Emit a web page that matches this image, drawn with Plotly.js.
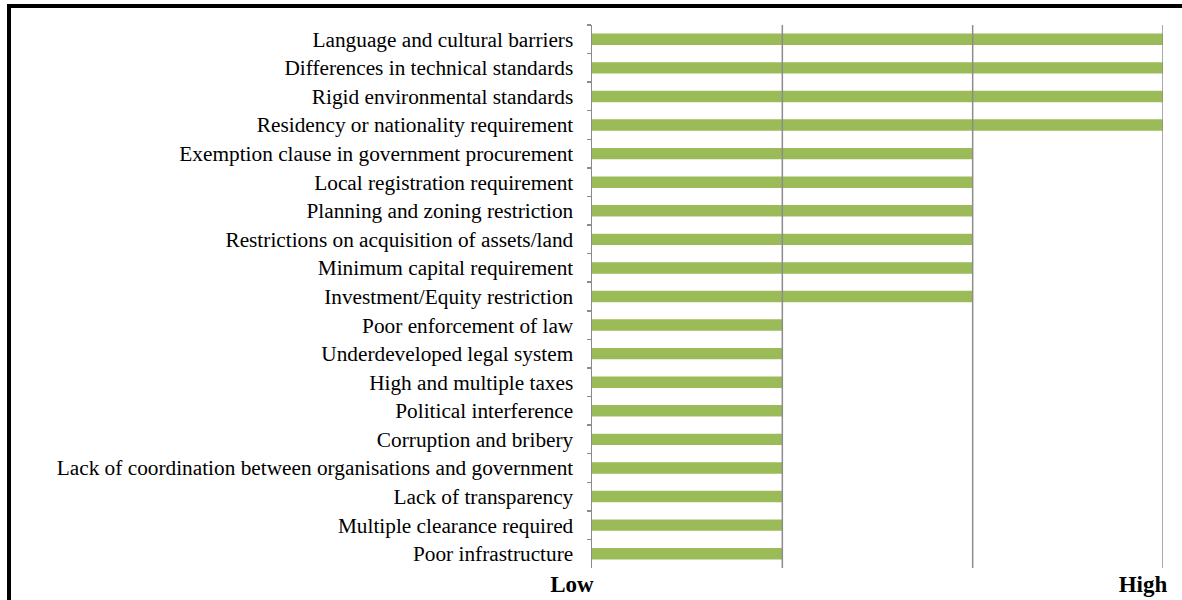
<!DOCTYPE html>
<html>
<head>
<meta charset="utf-8">
<script src="https://cdn.plot.ly/plotly-3.0.1.min.js"></script>
<style>
html,body{margin:0;padding:0;background:#fff;overflow:hidden;}
#frame{position:absolute;left:7px;top:4px;width:1300px;height:700px;border:4px solid #000;box-sizing:border-box;}
#chart{position:absolute;left:0;top:0;width:1182px;height:600px;}
</style>
</head>
<body>
<div id="frame"></div>
<div id="chart"></div>
<script>
const barriers = [
  "Language and cultural barriers",
  "Differences in technical standards",
  "Rigid environmental standards",
  "Residency or nationality requirement",
  "Exemption clause in government procurement",
  "Local registration requirement",
  "Planning and zoning restriction",
  "Restrictions on acquisition of assets/land",
  "Minimum capital requirement",
  "Investment/Equity restriction",
  "Poor enforcement of law",
  "Underdeveloped legal system",
  "High and multiple taxes",
  "Political interference",
  "Corruption and bribery",
  "Lack of coordination between organisations and government",
  "Lack of transparency",
  "Multiple clearance required",
  "Poor infrastructure"
];
const levels = [3,3,3,3,2,2,2,2,2,2,1,1,1,1,1,1,1,1,1];
const scaleTickVals = [0, 3];
const scaleTickText = ["<b>Low</b>", "<b>High</b>"];

const trace = {
  type: 'bar',
  orientation: 'h',
  x: levels,
  y: barriers,
  marker: {color: '#9BBB59', line: {width: 0}},
  hoverinfo: 'skip'
};

const layout = {
  width: 1182,
  height: 600,
  margin: {l: 592, r: 19, t: 25, b: 32, pad: 0},
  paper_bgcolor: 'rgba(0,0,0,0)',
  plot_bgcolor: 'rgba(0,0,0,0)',
  bargap: 0.6,
  showlegend: false,
  font: {family: '"Liberation Serif", "Times New Roman", serif', color: '#000'},
  xaxis: {
    range: [0, 3],
    tickvals: scaleTickVals,
    ticktext: scaleTickText,
    showgrid: true,
    gridcolor: '#8c8c8c',
    gridwidth: 1.5,
    zeroline: false,
    showline: false,
    ticks: '',
    ticklabelshift: -20,
    tickfont: {size: 23, family: '"Liberation Serif", serif', color: '#000'},
    fixedrange: true
  },
  yaxis: {
    type: 'category',
    autorange: false,
    range: [18.5, -0.5],
    showline: true,
    linecolor: '#8c8c8c',
    linewidth: 1.5,
    ticks: 'outside',
    tickson: 'boundaries',
    ticklen: 4,
    tickcolor: '#8c8c8c',
    tickwidth: 1.5,
    showgrid: false,
    ticklabelstandoff: 13,
    tickfont: {size: 21.3, family: '"Liberation Serif", serif', color: '#000'},
    fixedrange: true
  },
  shapes: [1,2,3].map(v => ({
    type: 'line', xref: 'x', yref: 'paper', x0: v, x1: v, y0: 0, y1: 1,
    line: {color: '#8c8c8c', width: 1.5}, layer: 'above'
  }))
};

Plotly.newPlot('chart', [trace], layout, {displayModeBar: false, staticPlot: true});
</script>
</body>
</html>
